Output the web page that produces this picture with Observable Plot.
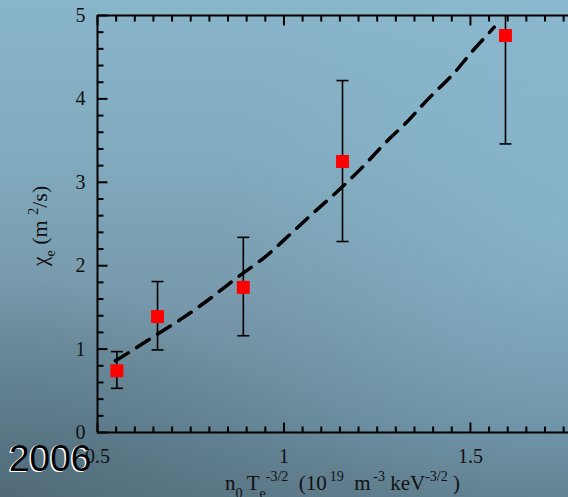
<!DOCTYPE html>
<html>
<head>
<meta charset="utf-8">
<script src="https://cdn.jsdelivr.net/npm/d3@7"></script>
<script src="https://cdn.jsdelivr.net/npm/@observablehq/plot@0.6"></script>
<style>
  html, body { margin: 0; padding: 0; }
  body { width: 568px; height: 497px; overflow: hidden; }
  #wrap {
    position: relative; width: 568px; height: 497px; overflow: hidden;
    background:
      radial-gradient(ellipse 60% 70% at 100% 45%, rgba(142,192,218,0.55), rgba(142,192,218,0) 100%),
      radial-gradient(ellipse 55% 45% at 0% 100%, rgba(70,92,104,0.55), rgba(70,92,104,0) 100%),
      linear-gradient(to bottom, #89b5ca 0%, #82abbf 30%, #7799ab 60%, #67899a 85%, #5d7b8a 100%);
  }
  #chart { position: absolute; left: 0; top: 0; }
  .lbl { position: absolute; width: max-content; font-family: "Liberation Serif", serif; font-size: 21px; color: #111; white-space: nowrap; line-height: 1; }
  .lbl sub, .lbl sup { font-size: 14px; line-height: 0; }
  .lbl sub { vertical-align: -8px; }
  .lbl sup { vertical-align: 9px; }
  #ylab { left: 40px; top: 226px; font-size: 22px; transform: translate(-50%, -50%) rotate(-90deg); }
  #xlab { left: 225px; top: 473px; }
  #year {
    position: absolute; left: 9px; top: 440px; line-height: 1;
    font-family: "Liberation Sans", Arial, sans-serif; font-size: 37px; color: #000;
    text-shadow: -1.5px 1px 0 #fff, -1px 0 0 #fff;
  }
</style>
</head>
<body>
<div id="wrap">
  <div id="chart"></div>
  <div class="lbl" id="ylab">&chi;<sub>e</sub> (m <sup>2</sup>/s)</div>
  <div class="lbl" id="xlab">n<sub>0</sub>&thinsp;T<sub>e</sub><sup>-3/2</sup>&nbsp; (10<sup>&thinsp;19</sup>&nbsp; m<sup>&thinsp;-3</sup> keV<sup>-3/2</sup> )</div>
  <div id="year">2006</div>
</div>
<script>
// Measured electron heat diffusivity vs. n0 Te^-3/2
const density = [0.552, 0.661, 0.891, 1.157, 1.594];
const chiE = [0.74, 1.39, 1.74, 3.25, 4.76];
const chiLow = [0.53, 0.99, 1.16, 2.29, 3.46];
const chiHigh = [0.97, 1.81, 2.34, 4.22, 6.06];

// Model curve (dashed)
const modelX = [0.548, 0.588, 0.661, 0.731, 0.803, 0.875, 0.948, 1.015, 1.078, 1.143, 1.208, 1.269, 1.331, 1.387, 1.452, 1.505, 1.564];
const modelY = [0.86, 0.97, 1.18, 1.38, 1.61, 1.86, 2.10, 2.37, 2.63, 2.89, 3.17, 3.46, 3.73, 4.00, 4.29, 4.57, 4.86];

// Axis ticks
const xMajor = [0.5, 1, 1.5];
const xMinor = d3.range(0, 26).map(i => +(0.5 + i * 0.05).toFixed(2)).filter(v => !xMajor.includes(v));
const yMajor = [0, 1, 2, 3, 4, 5];
const yMinor = d3.range(0, 26).map(i => +(i * 0.2).toFixed(1)).filter(v => !yMajor.includes(v));

const points = density.map((x, i) => ({x, y: chiE[i], lo: chiLow[i], hi: chiHigh[i]}));
const model = modelX.map((x, i) => ({x, y: modelY[i]}));

// Short line segments used as inward tick marks and error-bar caps
const seg = (dx, dy) => ({draw(ctx) { ctx.moveTo(0, 0); ctx.lineTo(dx, dy); }});
const cap = {draw(ctx) { ctx.moveTo(-6, 0); ctx.lineTo(6, 0); }};

const tickStyle = {fill: "none", stroke: "#000", strokeWidth: 2};

const chart = Plot.plot({
  width: 568,
  height: 497,
  marginLeft: 97,
  marginRight: 0,
  marginTop: 15,
  marginBottom: 65,
  style: {background: "transparent", fontFamily: "Liberation Serif, serif", fontSize: "20px", color: "#111"},
  x: {domain: [0.5, 1.763]},
  y: {domain: [0, 5]},
  marks: [
    Plot.axisX({ticks: xMajor, tickSize: 0, tickPadding: 16, tickFormat: d => String(d), label: null}),
    Plot.axisY({ticks: yMajor, tickSize: 0, tickPadding: 12, tickFormat: d => String(d), label: null}),
    // inward ticks: bottom, top, left
    Plot.dot(xMajor, {x: d => d, y: 0, symbol: seg(0, -10), ...tickStyle}),
    Plot.dot(xMinor, {x: d => d, y: 0, symbol: seg(0, -6), ...tickStyle}),
    Plot.dot(xMajor, {x: d => d, y: 5, symbol: seg(0, 10), ...tickStyle}),
    Plot.dot(xMinor, {x: d => d, y: 5, symbol: seg(0, 6), ...tickStyle}),
    Plot.dot(yMajor, {x: 0.5, y: d => d, symbol: seg(10, 0), ...tickStyle}),
    Plot.dot(yMinor, {x: 0.5, y: d => d, symbol: seg(6, 0), ...tickStyle}),
    // frame lines
    Plot.ruleY([0, 5], {stroke: "#000", strokeWidth: 2}),
    Plot.ruleX([0.5], {stroke: "#000", strokeWidth: 2}),
    // error bars
    Plot.ruleX(points, {x: "x", y1: "lo", y2: "hi", stroke: "#000", strokeWidth: 1.6, clip: true}),
    Plot.dot(points, {x: "x", y: "lo", symbol: cap, fill: "none", stroke: "#000", strokeWidth: 1.6, clip: true}),
    Plot.dot(points, {x: "x", y: "hi", symbol: cap, fill: "none", stroke: "#000", strokeWidth: 1.6, clip: true}),
    // model curve
    Plot.line(model, {x: "x", y: "y", stroke: "#000", strokeWidth: 3.5, strokeDasharray: "15,10", strokeLinecap: "round", curve: "catmull-rom"}),
    // measurements
    Plot.dot(points, {x: "x", y: "y", symbol: "square", r: 7.3, fill: "#ff0000", stroke: "none"})
  ]
});
document.getElementById("chart").appendChild(chart);
</script>
</body>
</html>
